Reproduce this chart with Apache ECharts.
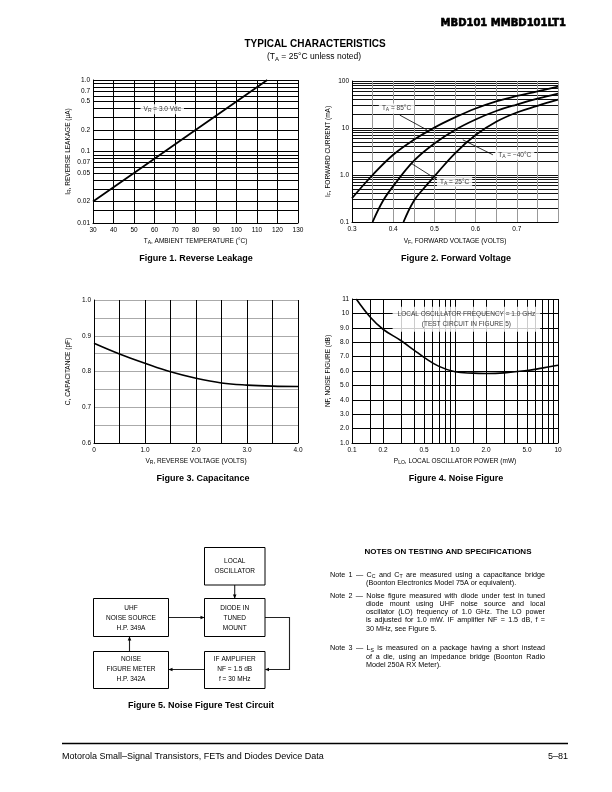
<!DOCTYPE html>
<html><head><meta charset="utf-8">
<script src="https://cdn.jsdelivr.net/npm/echarts@6/dist/echarts.min.js"></script>
<style>html,body{margin:0;padding:0;background:#fff}#c{width:612px;height:792px}</style>
</head><body><div id="c"></div>
<script>
const FONT = "'Liberation Sans', Arial, Helvetica, sans-serif";

// ---------- Figure 1: Reverse Leakage ----------
const fig1Temp = [30, 50, 80, 100, 115];
const fig1Leak = [0.02, 0.05, 0.2, 0.5, 1.0];
const fig1YGrid = [0.01,0.015,0.02,0.03,0.04,0.05,0.06,0.07,0.08,0.09,0.1,0.15,0.2,0.3,0.4,0.5,0.6,0.7,0.8,0.9,1.0];
const fig1YTickLabels = ['0.01','0.02','0.05','0.07','0.1','0.2','0.5','0.7','1.0'];
const fig1XTickLabels = ['30','40','50','60','70','80','90','100','110','120','130'];

// ---------- Figure 2: Forward Voltage ----------
const fig2V85 = [0.3,0.35,0.4,0.45,0.5,0.55,0.6,0.65,0.7,0.75,0.8];
const fig2I85 = [0.32,1.0,2.7,5.6,10.2,16.8,26,37,48,60,76];
const fig2V25 = [0.35,0.375,0.4,0.45,0.5,0.55,0.6,0.65,0.7,0.75,0.8];
const fig2I25 = [0.1,0.28,0.58,2.0,4.7,9.1,15.2,23,31.6,42,54];
const fig2Vm40 = [0.425,0.45,0.475,0.5,0.55,0.6,0.65,0.7,0.75,0.8];
const fig2Im40 = [0.1,0.28,0.53,0.94,2.9,7.1,13.6,21.4,29.6,40];
const fig2YGrid = [0.1,0.2,0.3,0.4,0.5,0.6,0.7,0.8,0.9,1,2,3,4,5,6,7,8,9,10,20,30,40,50,60,70,80,90,100];
const fig2YTickLabels = ['0.1','1.0','10','100'];
const fig2XTickLabels = ['0.3','0.4','0.5','0.6','0.7'];
const fig2LabelText = ['85°C', '−40°C', '25°C'];
const fig2LabelAt = [[0.408, 26], [0.695, 2.7], [0.549, 0.72]];
const fig2LeaderFrom = [[0.416, 18.8], [0.642, 2.69], [0.506, 0.80]];
const fig2LeaderTo = [[0.482, 9.1], [0.569, 5.6], [0.445, 1.74]];

// ---------- Figure 3: Capacitance ----------
const fig3V = [0, 0.5, 1.0, 1.5, 2.0, 2.5, 3.0, 3.5, 4.0];
const fig3C = [0.879, 0.849, 0.823, 0.799, 0.781, 0.768, 0.762, 0.759, 0.758];
const fig3XTickLabels = ['0','1.0','2.0','3.0','4.0'];
const fig3YTickLabels = ['0.6','0.7','0.8','0.9','1.0'];

// ---------- Figure 4: Noise Figure ----------
const fig4P = [0.11, 0.15, 0.2, 0.3, 0.4, 0.5, 0.7, 1.0, 1.5, 2.0, 3.0, 5.0, 7.0, 10];
const fig4NF = [11.0, 9.75, 8.9, 8.1, 7.45, 6.95, 6.32, 5.95, 5.85, 5.83, 5.87, 6.03, 6.2, 6.4];
const fig4XGrid = [0.1,0.15,0.2,0.3,0.4,0.5,0.6,0.7,0.8,0.9,1,1.5,2,3,4,5,6,7,8,9,10];
const fig4XTickLabels = ['0.1','0.2','0.5','1.0','2.0','5.0','10'];
const fig4YTickLabels = ['1.0','2.0','3.0','4.0','5.0','6.0','7.0','8.0','9.0','10','11'];
const fig4LabelAt = [1.29, 9.6];

const zip = (a, b) => a.map((v, i) => [v, b[i]]);
const logFmt = list => { const vals = list.map(Number); return v => { let bi = 0, bd = Infinity; vals.forEach((x, i) => { const d = Math.abs(Math.log(x) - Math.log(v)); if (d < bd) { bd = d; bi = i; } }); return list[bi]; }; };
const linFmt = list => { const vals = list.map(Number); return v => { let bi = 0, bd = Infinity; vals.forEach((x, i) => { const d = Math.abs(x - v); if (d < bd) { bd = d; bi = i; } }); return list[bi]; }; };

const tickStyle = { fontSize: 6.5, fontFamily: FONT, color: '#000' };
const richSub = { a: { fontSize: 6.5, fontFamily: FONT, color: '#000' }, s: { fontSize: 5, fontFamily: FONT, color: '#000', padding: [3, 0, 0, 0] } };
const nameStyle = { fontSize: 6.5, fontFamily: FONT, color: '#000', rich: richSub };
const axisLine = { show: true, onZero: false, lineStyle: { color: '#000', width: 1 } };
const split = (c, w) => ({ show: true, lineStyle: { color: c, width: w || 1 } });

const measureCtx = document.createElement('canvas').getContext('2d');
function textW(str, size, weight) { measureCtx.font = (weight || 'normal') + ' ' + size + 'px ' + FONT; return measureCtx.measureText(str).width; }
function gText(x, y, text, o) {
  return { type: 'text', x: x, y: y, silent: true, z: 10,
    style: Object.assign({ text: text, fill: '#000', fontSize: 6.5, fontFamily: FONT, align: 'center', verticalAlign: 'middle' }, o || {}) };
}

const graphics = [];
// Header & titles
graphics.push(gText(566, 23, 'MBD101 MMBD101LT1', { align: 'right', fontSize: 10, fontWeight: 'bold', fontFamily: "'DejaVu Sans', sans-serif", stroke: '#000', lineWidth: 0.6 }));
graphics.push(gText(315, 44, 'TYPICAL CHARACTERISTICS', { fontSize: 10, fontWeight: 'bold' }));
graphics.push(gText(314, 57, '{a|(T}{s|A}{a| = 25°C unless noted)}', { rich: { a: { fontSize: 8.5, fontFamily: FONT, fill: '#000' }, s: { fontSize: 6, fontFamily: FONT, fill: '#000', padding: [4, 0, 0, 0] } } }));
// Captions
const capStyle = { fontSize: 9, fontWeight: 'bold' };
graphics.push(gText(196, 259, 'Figure 1. Reverse Leakage', capStyle));
graphics.push(gText(456, 259, 'Figure 2. Forward Voltage', capStyle));
graphics.push(gText(203, 479, 'Figure 3. Capacitance', capStyle));
graphics.push(gText(456, 479, 'Figure 4. Noise Figure', capStyle));
graphics.push(gText(201, 706, 'Figure 5. Noise Figure Test Circuit', capStyle));

// Block diagram (Figure 5)
const boxes = [
  { x: 204.5, y: 547.5, w: 60.5, h: 37.5, lines: ['LOCAL', 'OSCILLATOR'], ly: [561.5, 571.5] },
  { x: 204.5, y: 598.5, w: 60.5, h: 38, lines: ['DIODE IN', 'TUNED', 'MOUNT'], ly: [608.3, 618.3, 628.3] },
  { x: 93.5, y: 598.5, w: 75, h: 38, lines: ['UHF', 'NOISE SOURCE', 'H.P. 349A'], ly: [608.3, 618.3, 628.3] },
  { x: 93.5, y: 651.5, w: 75, h: 37, lines: ['NOISE', 'FIGURE METER', 'H.P. 342A'], ly: [659.5, 669.5, 679.5] },
  { x: 204.5, y: 651.5, w: 60.5, h: 37, lines: ['IF AMPLIFIER', 'NF = 1.5 dB', 'f = 30 MHz'], ly: [659.5, 669.5, 679.5] }
];
boxes.forEach(b => {
  graphics.push({ type: 'rect', silent: true, z: 5, shape: { x: b.x, y: b.y, width: b.w, height: b.h }, style: { fill: '#fff', stroke: '#000', lineWidth: 1 } });
  b.lines.forEach((t, i) => graphics.push(gText(b.x + b.w / 2, b.ly[i], t, { fontSize: 6.5 })));
});
const wire = pts => ({ type: 'polyline', silent: true, z: 4, shape: { points: pts }, style: { stroke: '#222', lineWidth: 1.1, fill: null } });
const head = (x, y, dir) => {
  const L = 4, W = 1.8; let p;
  if (dir === 'down') p = [[x, y], [x - W, y - L], [x + W, y - L]];
  if (dir === 'up') p = [[x, y], [x - W, y + L], [x + W, y + L]];
  if (dir === 'right') p = [[x, y], [x - L, y - W], [x - L, y + W]];
  if (dir === 'left') p = [[x, y], [x + L, y - W], [x + L, y + W]];
  return { type: 'polygon', silent: true, z: 6, shape: { points: p }, style: { fill: '#000' } };
};
graphics.push(wire([[234.7, 585], [234.7, 598]]), head(234.7, 598.5, 'down'));
graphics.push(wire([[168.5, 617.5], [204, 617.5]]), head(204.5, 617.5, 'right'));
graphics.push(wire([[265, 617.5], [289.5, 617.5], [289.5, 669.5], [265.5, 669.5]]), head(265, 669.5, 'left'));
graphics.push(wire([[204.5, 669.5], [169, 669.5]]), head(168.5, 669.5, 'left'));
graphics.push(wire([[129.5, 651.5], [129.5, 637]]), head(129.5, 636.5, 'up'));

// Notes
graphics.push(gText(448, 552, 'NOTES ON TESTING AND SPECIFICATIONS', { fontSize: 8, fontWeight: 'bold' }));
const NOTE_SIZE = 7.2, NOTE_SUB = 5.2;
function noteLine(x0, x1, y, str, justify) {
  const words = str.split(' ').map(w => {
    const segs = []; const re = /_\{([^}]*)\}/g; let last = 0, m;
    while ((m = re.exec(w))) { if (m.index > last) segs.push({ t: w.slice(last, m.index), sub: false }); segs.push({ t: m[1], sub: true }); last = re.lastIndex; }
    if (last < w.length) segs.push({ t: w.slice(last), sub: false });
    segs.forEach(s => s.w = textW(s.t, s.sub ? NOTE_SUB : NOTE_SIZE));
    return { segs: segs, w: segs.reduce((a, s) => a + s.w, 0) };
  });
  const total = words.reduce((a, w) => a + w.w, 0);
  let gap = textW(' ', NOTE_SIZE);
  if (justify && words.length > 1) gap = Math.max(0.8, (x1 - x0 - total) / (words.length - 1));
  let x = x0;
  words.forEach(w => { w.segs.forEach(s => { graphics.push(gText(x, s.sub ? y + 2 : y, s.t, { align: 'left', fontSize: s.sub ? NOTE_SUB : NOTE_SIZE })); x += s.w; }); x += gap; });
}
const NX0 = 330, NXI = 366, NX1 = 545;
noteLine(NX0, NX1, 575, 'Note 1 — C_{C} and C_{T} are measured using a capacitance bridge', true);
noteLine(NXI, NX1, 583.5, '(Boonton Electronics Model 75A or equivalent).', false);
noteLine(NX0, NX1, 596, 'Note 2 — Noise figure measured with diode under test in tuned', true);
noteLine(NXI, NX1, 604.3, 'diode mount using UHF noise source and local', true);
noteLine(NXI, NX1, 612.5, 'oscillator (LO) frequency of 1.0 GHz. The LO power', true);
noteLine(NXI, NX1, 620.5, 'is adjusted for 1.0 mW. IF amplifier NF = 1.5 dB, f =', true);
noteLine(NXI, NX1, 628.6, '30 MHz, see Figure 5.', false);
noteLine(NX0, NX1, 648.3, 'Note 3 — L_{S} is measured on a package having a short instead', true);
noteLine(NXI, NX1, 657, 'of a die, using an impedance bridge (Boonton Radio', true);
noteLine(NXI, NX1, 665.5, 'Model 250A RX Meter).', false);

// Footer
graphics.push({ type: 'polyline', silent: true, shape: { points: [[62, 743.5], [568, 743.5]] }, style: { stroke: '#000', lineWidth: 1.6, fill: null } });
graphics.push(gText(62, 757, 'Motorola Small–Signal Transistors, FETs and Diodes Device Data', { align: 'left', fontSize: 9 }));
graphics.push(gText(568, 757, '5–81', { align: 'right', fontSize: 9 }));

const labelCommon = { show: true, position: 'inside', color: '#000', backgroundColor: '#fff', padding: [1, 3], fontSize: 6.5, fontFamily: FONT, rich: richSub };

const option = {
  animation: false,
  backgroundColor: '#fff',
  textStyle: { fontFamily: FONT },
  grid: [
    { left: 93, top: 80, width: 205, height: 143, outerBoundsMode: 'none' },
    { left: 352, top: 81, width: 206, height: 141, outerBoundsMode: 'none' },
    { left: 94, top: 300, width: 204, height: 143, outerBoundsMode: 'none' },
    { left: 352, top: 299, width: 206, height: 144, outerBoundsMode: 'none' }
  ],
  xAxis: [
    { gridIndex: 0, type: 'value', min: 30, max: 130, interval: 10, axisLine: axisLine, axisTick: { show: false },
      axisLabel: Object.assign({ margin: 4, customValues: fig1XTickLabels.map(Number), formatter: linFmt(fig1XTickLabels) }, tickStyle),
      splitLine: split('#000'), name: '{a|T}{s|A}{a|, AMBIENT TEMPERATURE (°C)}', nameLocation: 'middle', nameGap: 14, nameTextStyle: nameStyle },
    { gridIndex: 1, type: 'value', min: 0.3, max: 0.8, interval: 0.05, axisLine: axisLine, axisTick: { show: false },
      axisLabel: Object.assign({ margin: 4, customValues: fig2XTickLabels.map(Number), formatter: linFmt(fig2XTickLabels) }, tickStyle),
      splitLine: split('#999'), name: '{a|V}{s|F}{a|, FORWARD VOLTAGE (VOLTS)}', nameLocation: 'middle', nameGap: 15, nameTextStyle: nameStyle },
    { gridIndex: 2, type: 'value', min: 0, max: 4, interval: 0.5, axisLine: axisLine, axisTick: { show: false },
      axisLabel: Object.assign({ margin: 4, customValues: fig3XTickLabels.map(Number), formatter: linFmt(fig3XTickLabels) }, tickStyle),
      splitLine: split('#000'), name: '{a|V}{s|R}{a|, REVERSE VOLTAGE (VOLTS)}', nameLocation: 'middle', nameGap: 14, nameTextStyle: nameStyle },
    { gridIndex: 3, type: 'log', logBase: 10, min: 0.1, max: 10, axisLine: axisLine, axisTick: { show: false, customValues: fig4XGrid },
      axisLabel: Object.assign({ margin: 4, customValues: fig4XTickLabels.map(Number), formatter: logFmt(fig4XTickLabels) }, tickStyle),
      splitLine: split('#000'), name: '{a|P}{s|LO}{a|, LOCAL OSCILLATOR POWER (mW)}', nameLocation: 'middle', nameGap: 14, nameTextStyle: nameStyle }
  ],
  yAxis: [
    { gridIndex: 0, type: 'log', logBase: 10, min: 0.01, max: 1, axisLine: axisLine, axisTick: { show: false, customValues: fig1YGrid },
      axisLabel: Object.assign({ margin: 3, customValues: fig1YTickLabels.map(Number), formatter: logFmt(fig1YTickLabels) }, tickStyle),
      splitLine: split('#000'), name: '{a|I}{s|R}{a|, REVERSE LEAKAGE (μA)}', nameLocation: 'middle', nameGap: 21, nameTextStyle: nameStyle },
    { gridIndex: 1, type: 'log', logBase: 10, min: 0.1, max: 100, axisLine: axisLine, axisTick: { show: false, customValues: fig2YGrid },
      axisLabel: Object.assign({ margin: 3, customValues: fig2YTickLabels.map(Number), formatter: logFmt(fig2YTickLabels) }, tickStyle),
      splitLine: split('#111'), name: '{a|I}{s|F}{a|, FORWARD CURRENT (mA)}', nameLocation: 'middle', nameGap: 20, nameTextStyle: nameStyle },
    { gridIndex: 2, type: 'value', min: 0.6, max: 1.0, interval: 0.05, axisLine: axisLine, axisTick: { show: false },
      axisLabel: Object.assign({ margin: 3, customValues: fig3YTickLabels.map(Number), formatter: linFmt(fig3YTickLabels) }, tickStyle),
      splitLine: split('#aaa', 1.2), name: 'C, CAPACITANCE (pF)', nameLocation: 'middle', nameGap: 22, nameTextStyle: nameStyle },
    { gridIndex: 3, type: 'value', min: 1, max: 11, interval: 1, axisLine: axisLine, axisTick: { show: false },
      axisLabel: Object.assign({ margin: 3, formatter: linFmt(fig4YTickLabels) }, tickStyle),
      splitLine: split('#000'), name: 'NF, NOISE FIGURE (dB)', nameLocation: 'middle', nameGap: 20, nameTextStyle: nameStyle }
  ],
  series: [
    { type: 'line', xAxisIndex: 0, yAxisIndex: 0, data: zip(fig1Temp, fig1Leak), symbol: 'none', silent: true, lineStyle: { color: '#000', width: 1.8 } },
    { type: 'scatter', xAxisIndex: 0, yAxisIndex: 0, symbolSize: 1, silent: true, itemStyle: { color: 'rgba(0,0,0,0)' },
      data: [{ value: [63.8, 0.39], label: Object.assign({}, labelCommon, { formatter: '{a|V}{s|R}{a| = 3.0 Vdc}' }) }] },
    { type: 'line', xAxisIndex: 1, yAxisIndex: 1, data: zip(fig2V85, fig2I85), symbol: 'none', smooth: 0.4, silent: true, lineStyle: { color: '#000', width: 1.8 } },
    { type: 'line', xAxisIndex: 1, yAxisIndex: 1, data: zip(fig2V25, fig2I25), symbol: 'none', smooth: 0.4, silent: true, lineStyle: { color: '#000', width: 1.8 } },
    { type: 'line', xAxisIndex: 1, yAxisIndex: 1, data: zip(fig2Vm40, fig2Im40), symbol: 'none', smooth: 0.4, silent: true, lineStyle: { color: '#000', width: 1.8 } },
    { type: 'scatter', xAxisIndex: 1, yAxisIndex: 1, symbolSize: 1, silent: true, z: 5, itemStyle: { color: 'rgba(0,0,0,0)' },
      data: fig2LabelAt.map((p, i) => ({ value: p, label: Object.assign({}, labelCommon, { formatter: '{a|T}{s|A}{a| = ' + fig2LabelText[i] + '}' }) })),
      markLine: { silent: true, symbol: ['none', 'none'], label: { show: false }, lineStyle: { color: '#000', width: 0.8, type: 'solid' },
        data: fig2LeaderFrom.map((p, i) => [{ coord: p }, { coord: fig2LeaderTo[i] }]) } },
    { type: 'line', xAxisIndex: 2, yAxisIndex: 2, data: zip(fig3V, fig3C), symbol: 'none', smooth: 0.4, silent: true, lineStyle: { color: '#000', width: 1.6 } },
    { type: 'line', xAxisIndex: 3, yAxisIndex: 3, data: zip(fig4P, fig4NF), symbol: 'none', smooth: 0.4, silent: true, lineStyle: { color: '#000', width: 1.6 } },
    { type: 'scatter', xAxisIndex: 3, yAxisIndex: 3, symbolSize: 1, silent: true, itemStyle: { color: 'rgba(0,0,0,0)' },
      data: [{ value: fig4LabelAt, label: Object.assign({}, labelCommon, { padding: [2, 5], lineHeight: 10.5, formatter: 'LOCAL OSCILLATOR FREQUENCY = 1.0 GHz\n(TEST CIRCUIT IN FIGURE 5)' }) }] }
  ],
  graphic: graphics
};

const chart = echarts.init(document.getElementById('c'), null, { renderer: 'canvas' });
chart.setOption(option);
</script>
</body></html>
